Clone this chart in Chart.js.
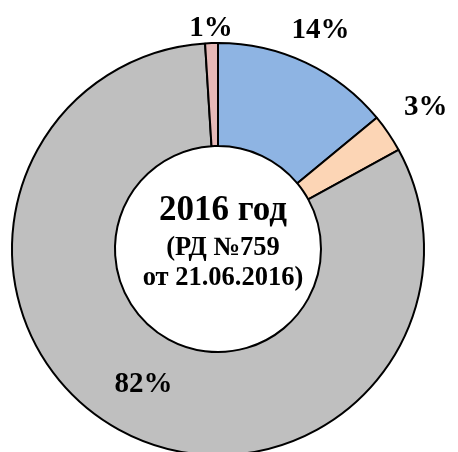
<!DOCTYPE html>
<html>
<head>
<meta charset="utf-8">
<script src="https://cdn.jsdelivr.net/npm/chart.js@4"></script>
<style>
    html, body { margin: 0; padding: 0; background: #fff; overflow: hidden; }
    #wrap { width: 458px; height: 470px; position: relative; }
</style>
</head>
<body>
<div id="wrap"><canvas id="shareChart"></canvas></div>
<script>
// Slices, clockwise from 12 o'clock
const categories = ['Категория 1', 'Категория 2', 'Категория 3', 'Категория 4'];
const shares = [14, 3, 82, 1];
const sliceColors = ['#8EB4E3', '#FCD5B5', '#BFBFBF', '#E6B9B8'];
const centerLines = ['2016 год', '(РД №759', 'от 21.06.2016)'];

// how far from the centre each percent label sits (relative to outer radius)
const labelRadius = [1.17, 1.22, 0.75, 1.07];

const serif = "'Liberation Serif', 'Times New Roman', serif";

const sliceLabels = {
    id: 'sliceLabels',
    afterDatasetsDraw(chart) {
        const ctx = chart.ctx;
        const arcs = chart.getDatasetMeta(0).data;
        ctx.save();
        ctx.fillStyle = '#000';
        ctx.font = 'bold 29px ' + serif;
        ctx.textAlign = 'center';
        ctx.textBaseline = 'middle';
        arcs.forEach((arc, i) => {
            const p = arc.getProps(['x', 'y', 'startAngle', 'endAngle', 'outerRadius'], true);
            const mid = (p.startAngle + p.endAngle) / 2;
            const r = p.outerRadius * labelRadius[i];
            ctx.fillText(shares[i] + '%', p.x + Math.cos(mid) * r, p.y + Math.sin(mid) * r);
        });
        ctx.restore();
    }
};

const centerText = {
    id: 'centerText',
    afterDatasetsDraw(chart) {
        const ctx = chart.ctx;
        const arc = chart.getDatasetMeta(0).data[0];
        const cx = arc.x + 5;
        const cy = arc.y;
        ctx.save();
        ctx.fillStyle = '#000';
        ctx.textAlign = 'center';
        ctx.textBaseline = 'alphabetic';
        ctx.font = 'bold 35px ' + serif;
        ctx.fillText(centerLines[0], cx, cy - 29);
        ctx.font = 'bold 26.5px ' + serif;
        ctx.fillText(centerLines[1], cx, cy + 6);
        ctx.fillText(centerLines[2], cx, cy + 36);
        ctx.restore();
    }
};

new Chart(document.getElementById('shareChart'), {
    type: 'doughnut',
    data: {
        labels: categories,
        datasets: [{
            data: shares,
            backgroundColor: sliceColors,
            borderColor: '#000',
            borderWidth: 2
        }]
    },
    options: {
        responsive: true,
        maintainAspectRatio: false,
        animation: false,
        cutout: '50%',
        layout: { padding: { left: 11, right: 33, top: 42, bottom: 14 } },
        plugins: {
            legend: { display: false },
            tooltip: { enabled: false }
        }
    },
    plugins: [sliceLabels, centerText]
});
</script>
</body>
</html>
